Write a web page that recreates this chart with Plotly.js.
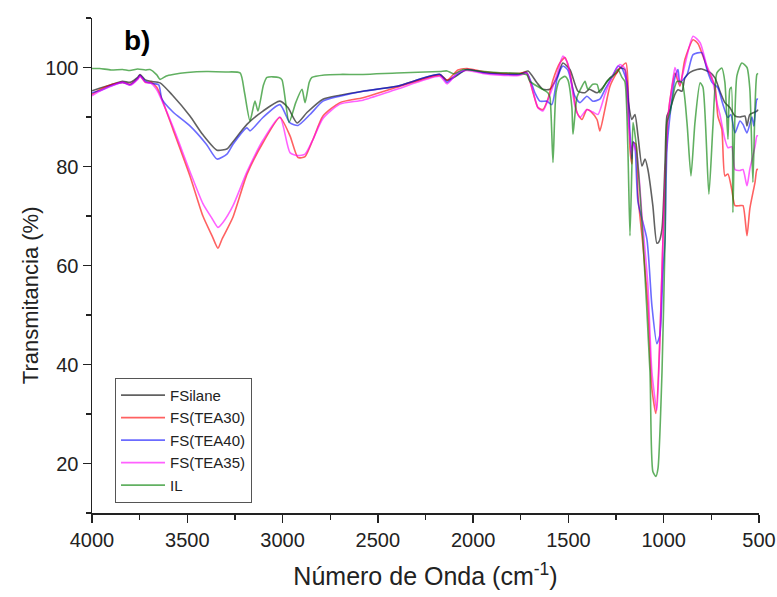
<!DOCTYPE html>
<html>
<head>
<meta charset="utf-8">
<script src="https://cdn.plot.ly/plotly-3.0.1.min.js"></script>
<style>html,body{margin:0;padding:0;background:#fff;}#chart{width:777px;height:597px;}</style>
</head>
<body>
<div id="chart"></div>
<script>
// ---- Data ----
const seriesNames = ["FSilane", "FS(TEA30)", "FS(TEA40)", "FS(TEA35)", "IL"];

const wnFSilane = [4000,3960,3900,3840,3800,3760,3748,3720,3690,3643,3580,3486,3420,3344,3290,3260,3187,3103,3014,2972,2924,2872,2788,2699,2578,2400,2174,2137,2100,2033,1950,1875,1760,1712,1665,1634,1597,1560,1529,1492,1450,1413,1390,1350,1319,1282,1245,1230,1204,1188,1167,1151,1135,1114,1098,1083,1057,1036,1025,1009,993,983,967,941,925,904,889,862,825,800,757,731,705,679,653,626,600,574,563,548,511,505];
const tFSilane  = [95.3,95.8,96.5,97.2,97.0,98.0,98.6,97.5,97.2,96.9,94.5,90.2,86.5,83.3,83.6,85.0,88.5,91.2,93.2,91.9,88.8,90.9,93.6,94.4,95.2,96.2,98.6,97.4,98.0,99.6,99.0,98.8,98.6,99.3,96.9,95.6,95.6,98.0,100.9,99.6,95.2,94.9,95.6,94.9,96.0,97.9,99.0,99.9,99.6,93.6,89.5,90.5,86.2,80.1,81.5,79.4,72.1,64.5,64.8,67.4,80.8,90.2,91.5,94.6,95.5,95.2,97.9,99.0,99.6,99.7,99.0,97.9,95.2,92.9,91.9,90.2,90.0,90.2,88.2,90.5,91.2,91.5];

const wnTEA30 = [4000,3960,3900,3840,3800,3760,3748,3720,3690,3660,3633,3575,3486,3418,3370,3339,3318,3260,3187,3103,3014,2961,2919,2882,2840,2788,2699,2578,2400,2174,2137,2080,2033,1950,1875,1760,1720,1686,1660,1634,1608,1581,1545,1518,1492,1455,1429,1403,1377,1350,1335,1309,1282,1245,1230,1198,1188,1177,1167,1161,1146,1135,1109,1083,1062,1041,1020,1004,977,957,941,915,889,846,820,794,768,731,716,695,679,663,643,626,600,584,563,548,521,511,505];
const tTEA30  = [94.6,95.5,96.5,97.0,96.6,97.8,98.4,97.0,97.0,96.0,93.6,87.5,78.1,70.0,66.0,63.5,65.3,69.8,78.4,84.8,89.9,86.2,81.8,82.0,85.5,90.2,92.9,93.9,96.0,98.4,97.4,99.5,99.8,99.2,98.9,98.8,99.0,95.0,91.9,91.5,93.6,97.5,100.9,102.0,99.0,90.9,89.5,91.5,90.9,89.5,87.2,91.5,96.2,99.0,99.8,100.9,97.0,83.5,80.5,84.9,84.5,74.1,64.0,51.9,35.1,30.1,45.2,65.3,90.2,96.0,98.9,96.2,101.6,105.6,104.8,102.3,99.5,96.2,90.2,87.5,78.1,78.5,75.4,72.1,72.1,72.1,66.0,71.5,76.8,79.4,79.4];

const wnTEA40 = [4000,3960,3900,3840,3800,3760,3748,3720,3690,3650,3633,3575,3486,3400,3344,3292,3260,3187,3171,3103,3014,2961,2919,2856,2788,2699,2578,2400,2174,2137,2100,2033,1950,1875,1760,1718,1676,1650,1613,1587,1560,1529,1503,1466,1440,1403,1372,1335,1309,1272,1240,1219,1193,1177,1167,1161,1151,1135,1088,1062,1036,1020,1004,993,983,957,941,925,915,878,846,800,773,747,716,689,663,648,626,600,584,563,537,527,511,505];
const tTEA40  = [94.9,95.3,96.3,97.0,96.5,97.8,98.4,97.2,96.8,96.5,93.6,91.0,88.2,84.5,81.5,82.5,84.5,87.8,87.2,89.9,92.5,88.8,88.3,90.5,93.2,94.2,95.2,96.2,98.6,97.0,98.2,99.6,99.0,98.7,98.6,98.9,94.9,93.2,93.2,92.5,97.6,100.3,99.5,94.2,92.9,94.2,93.2,93.6,95.5,98.0,100.3,99.8,97.0,86.9,81.5,85.0,84.0,72.8,65.3,51.9,44.2,46.0,58.6,65.3,83.5,93.6,98.0,99.6,97.0,98.5,102.6,103.0,99.6,97.0,95.9,92.5,89.9,90.5,86.8,89.2,88.5,86.8,90.0,88.2,93.6,93.6];

const wnTEA35 = [4000,3960,3900,3840,3800,3760,3748,3720,3690,3660,3633,3575,3486,3418,3370,3339,3313,3260,3187,3103,3014,2961,2919,2882,2840,2788,2699,2578,2400,2174,2137,2080,2033,1950,1875,1760,1718,1692,1660,1634,1597,1560,1529,1503,1466,1440,1403,1372,1345,1309,1272,1230,1204,1188,1167,1161,1141,1114,1083,1062,1036,1020,1004,977,957,941,925,915,889,846,809,773,747,721,705,679,663,643,626,600,584,563,548,521,511,505];
const tTEA35  = [94.3,95.2,96.2,97.0,96.4,97.6,98.2,97.0,96.8,95.5,93.3,88.0,79.0,72.5,69.5,67.7,68.7,72.1,78.9,85.3,90.0,82.8,82.2,82.5,85.5,89.7,92.6,93.4,95.6,98.2,96.7,99.0,99.4,98.8,98.5,98.4,98.8,96.0,91.9,91.2,94.5,98.6,102.3,100.8,92.2,89.9,91.5,91.0,90.5,94.5,98.0,100.6,99.8,90.2,82.5,84.6,82.5,70.0,56.0,38.5,30.7,45.0,65.3,90.2,96.0,100.0,98.0,96.6,100.5,106.3,105.0,100.3,98.0,92.9,90.5,85.5,83.8,84.0,79.4,79.2,79.4,76.1,79.5,84.0,86.2,86.2];

const wnIL = [4000,3960,3900,3840,3801,3760,3720,3696,3660,3643,3610,3575,3500,3400,3300,3223,3200,3171,3145,3129,3100,3082,3020,3003,2966,2930,2898,2882,2860,2846,2780,2699,2578,2400,2174,2137,2100,2053,2000,1875,1754,1718,1702,1650,1608,1597,1581,1565,1545,1518,1503,1482,1476,1455,1429,1413,1398,1372,1350,1335,1298,1266,1240,1219,1204,1188,1177,1167,1161,1146,1125,1109,1072,1057,1041,1030,1009,993,983,967,941,930,904,878,857,836,809,794,763,742,721,695,679,663,653,645,637,616,590,563,548,532,521,511,505];
const tIL  = [99.8,99.8,99.5,99.6,99.4,99.7,99.5,99.6,98.5,97.6,98.3,98.6,99.0,99.2,99.1,98.9,95.0,89.2,93.2,91.2,96.5,98.0,98.0,97.5,88.9,93.0,95.6,92.9,97.0,98.0,98.5,98.6,98.6,98.9,99.2,99.3,98.7,99.6,99.4,99.0,98.8,98.5,97.2,95.9,94.9,94.0,80.8,95.0,97.6,98.2,97.5,92.0,86.5,94.0,96.2,97.2,95.6,96.6,96.6,94.9,97.2,98.3,99.6,98.0,97.2,83.5,66.0,80.0,88.9,85.0,75.0,65.3,38.5,18.4,17.4,19.0,38.5,65.3,88.9,90.9,96.2,97.2,97.0,88.9,78.1,88.9,96.9,96.0,74.4,88.0,98.9,99.9,97.0,85.5,95.6,96.0,70.7,98.3,100.9,100.0,95.6,76.8,92.0,98.6,98.8];

const xTicks = [4000,3500,3000,2500,2000,1500,1000,500];
const yTicks = [20,40,60,80,100];

// ---- Styling ----
const colors = ["rgba(0,0,0,0.62)", "rgba(255,0,0,0.62)", "rgba(0,0,255,0.58)", "rgba(255,0,255,0.62)", "rgba(0,128,0,0.62)"];
const xs = [wnFSilane, wnTEA30, wnTEA40, wnTEA35, wnIL];
const ys = [tFSilane, tTEA30, tTEA40, tTEA35, tIL];

const traces = seriesNames.map((n, i) => ({
  type: "scatter", mode: "lines", name: n,
  x: xs[i], y: ys[i],
  line: {color: colors[i], width: 1.6, shape: "spline", smoothing: 0.6}
}));

const font = "Liberation Sans, Arial, sans-serif";
const layout = {
  width: 777, height: 597,
  margin: {l: 92, r: 18, t: 18, b: 84},
  paper_bgcolor: "#fff", plot_bgcolor: "#fff",
  showlegend: true,
  font: {family: font, color: "#222"},
  xaxis: {
    range: [4000, 500], tickvals: xTicks, ticktext: xTicks.map(String),
    showgrid: false, zeroline: false, showline: true, linecolor: "#222", linewidth: 1.5,
    ticks: "outside", ticklen: 8, tickwidth: 1.5, tickcolor: "#222",
    minor: {dtick: 250, tick0: 0, ticks: "outside", ticklen: 5, tickwidth: 1.2, tickcolor: "#222", showgrid: false},
    tickfont: {size: 20, family: font, color: "#222"},
    title: {text: "Número de Onda (cm<sup>-1</sup>)", font: {size: 25, family: font, color: "#222"}, standoff: 18}
  },
  yaxis: {
    range: [10, 110], tickvals: yTicks, ticktext: yTicks.map(String),
    showgrid: false, zeroline: false, showline: true, linecolor: "#222", linewidth: 1.5,
    ticks: "outside", ticklen: 8, tickwidth: 1.5, tickcolor: "#222",
    minor: {dtick: 10, tick0: 0, ticks: "outside", ticklen: 5, tickwidth: 1.2, tickcolor: "#222", showgrid: false},
    tickfont: {size: 20, family: font, color: "#222"}
  },
  legend: {
    x: 0.0345, y: 0.273, xanchor: "left", yanchor: "top",
    bgcolor: "#fff", bordercolor: "#555", borderwidth: 1,
    font: {size: 15, family: font, color: "#222"},
    tracegroupgap: 0, itemwidth: 44
  },
  annotations: [{
    text: "<b>b)</b>", xref: "paper", yref: "paper", x: 0.045, y: 0.955,
    xanchor: "left", yanchor: "middle", showarrow: false,
    font: {size: 28, family: font, color: "#000"}
  }, {
    text: "Transmitancia (%)", xref: "paper", yref: "paper", x: -0.093, y: 0.44,
    xanchor: "center", yanchor: "middle", textangle: -90, showarrow: false,
    font: {size: 22, family: font, color: "#222"}
  }]
};

Plotly.newPlot("chart", traces, layout, {displayModeBar: false, staticPlot: true});
</script>
</body>
</html>
